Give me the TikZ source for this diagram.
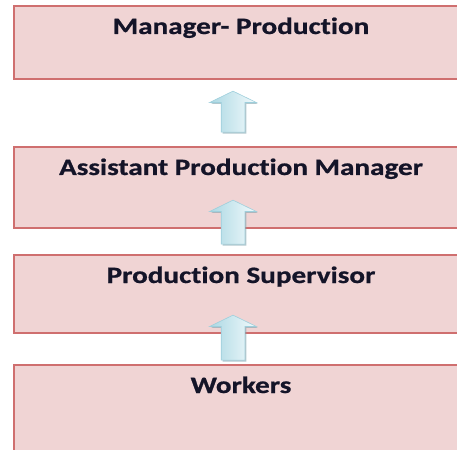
\documentclass[tikz,border=0pt]{standalone}
\usepackage{fontspec}
\setmainfont{Carlito}[FakeStretch=1.24, Ligatures=NoCommon,
  BoldFeatures={FakeBold=0.8}]
\usetikzlibrary{positioning,shapes.arrows,shadows}

\definecolor{boxfill}{HTML}{F0D4D4}
\definecolor{boxline}{HTML}{CF6F6F}
\definecolor{textcol}{HTML}{141428}
\definecolor{arrowtop}{HTML}{F2FAFC}
\definecolor{arrowbot}{HTML}{ACD8E3}
\definecolor{arrowline}{HTML}{9ECFDC}
\definecolor{arrowshade}{HTML}{7FA3AE}

\tikzset{
x=1pt, y=-1pt,
box/.style={rectangle, draw=boxline, fill=boxfill, line width=1.4pt,
  inner sep=0pt, outer sep=0pt, minimum width=454pt, text height=28pt,
  text=textcol, font=\bfseries\fontsize{23.5}{24}\selectfont},
uparrow/.style={single arrow, rotate=90, draw=arrowline, line width=0.6pt,
  left color=arrowbot, right color=arrowtop, inner sep=0pt,
  text height=23pt, text depth=0pt, single arrow head extend=11.5pt,
  single arrow tip angle=128,
  drop shadow={shadow xshift=1.5pt, shadow yshift=-1.5pt, fill=arrowshade, opacity=0.6}},
}

\begin{document}
\begin{tikzpicture}

    \path[use as bounding box, clip] (0,0) rectangle (457,449);

    % the four levels, top to bottom
    \node[box, anchor=north west, text depth=45pt] (mgr) at (14,6) {Manager- Production};
    \node[box, below=68pt of mgr, text depth=53pt] (apm) {Assistant Production Manager};
    \node[box, below=27pt of apm, text depth=50pt] (sup) {Production Supervisor};
    \node[box, below=32pt of sup, text depth=60pt] (wrk) {Workers};

    % block arrows pointing upwards
    \node[uparrow, minimum height=41pt] (up1) at (233,114.5) {};
    \node[uparrow, minimum height=44pt] (up2) at (233,225) {};
    \node[uparrow, minimum height=45pt] (up3) at (233,340.5) {};

\end{tikzpicture}
\end{document}
